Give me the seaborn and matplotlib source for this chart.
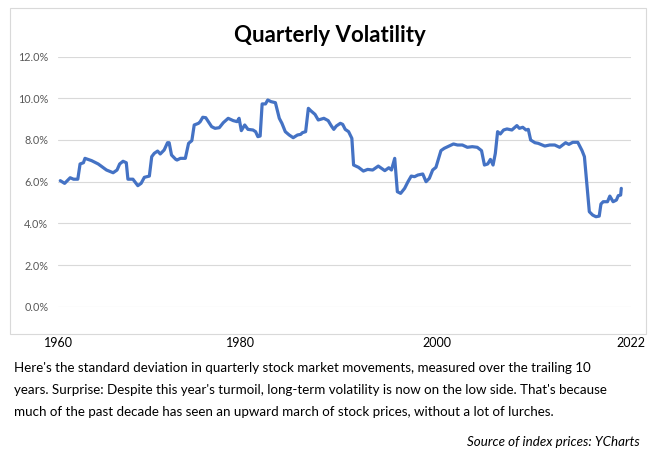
import matplotlib
matplotlib.use("Agg")
import matplotlib.pyplot as plt
import matplotlib.ticker as mticker
from matplotlib.patches import Rectangle
import numpy as np
import pandas as pd
import seaborn as sns

# ---- data ----
years = [1960.25, 1960.73, 1961.34, 1961.71, 1962.18, 1962.43, 1962.80, 1962.97, 1963.70, 1964.43,
         1965.34, 1966.07, 1966.50, 1966.79, 1967.16, 1967.52, 1967.70, 1968.25, 1968.79, 1969.15,
         1969.51, 1970.06, 1970.32, 1970.60, 1970.97, 1971.26, 1971.69, 1972.06, 1972.24, 1972.50,
         1972.97, 1973.11, 1973.48, 1974.02, 1974.38, 1974.74, 1975.00, 1975.47, 1975.66, 1975.94,
         1976.27, 1976.56, 1976.92, 1977.29, 1977.76, 1978.20, 1978.74, 1979.29, 1979.72, 1979.94,
         1980.19, 1980.56, 1980.92, 1981.47, 1981.76, 1982.01, 1982.26, 1982.48, 1982.85, 1983.10,
         1983.46, 1983.94, 1984.37, 1984.66, 1985.03, 1985.46, 1985.90, 1986.37, 1986.73, 1986.91,
         1987.27, 1987.57, 1987.82, 1988.30, 1988.66, 1989.28, 1989.75, 1990.11, 1990.37, 1990.65,
         1991.09, 1991.35, 1991.63, 1992.00, 1992.36, 1992.55, 1993.09, 1993.63, 1994.10, 1994.65,
         1995.27, 1995.63, 1995.99, 1996.43, 1996.72, 1997.08, 1997.37, 1997.73, 1998.17, 1998.54,
         1998.90, 1999.26, 1999.63, 2000.17, 2000.53, 2000.89, 2001.26, 2001.62, 2002.17, 2002.53,
         2003.07, 2003.55, 2003.99, 2004.53, 2005.08, 2005.62, 2006.17, 2006.64, 2006.96, 2007.32,
         2007.62, 2007.91, 2008.16, 2008.41, 2008.71, 2009.07, 2009.44, 2009.98, 2010.53, 2010.81,
         2011.18, 2011.54, 2011.79, 2012.05, 2012.52, 2012.88, 2013.61, 2014.15, 2014.70, 2015.24,
         2015.90, 2016.26, 2016.69, 2017.24, 2017.49, 2017.71, 2017.97, 2018.33, 2018.51, 2018.88,
         2019.24, 2019.60, 2019.79, 2020.04, 2020.51, 2020.77, 2021.13, 2021.49, 2021.70, 2021.96,
         2022.03]
volatility = [6.05, 5.92, 6.19, 6.12, 6.12, 6.85, 6.91, 7.12, 7.01, 6.85,
              6.56, 6.43, 6.56, 6.85, 6.98, 6.91, 6.12, 6.12, 5.81, 5.92,
              6.21, 6.27, 7.20, 7.36, 7.47, 7.33, 7.52, 7.87, 7.87, 7.28,
              7.07, 7.04, 7.12, 7.12, 7.84, 7.97, 8.72, 8.80, 8.88, 9.09,
              9.07, 8.88, 8.64, 8.56, 8.59, 8.83, 9.04, 8.93, 8.88, 9.04,
              8.45, 8.72, 8.51, 8.48, 8.40, 8.16, 8.19, 9.73, 9.73, 9.92,
              9.84, 9.79, 9.04, 8.80, 8.40, 8.24, 8.11, 8.24, 8.27, 8.35,
              8.40, 9.52, 9.41, 9.23, 8.96, 9.04, 8.93, 8.67, 8.51, 8.67,
              8.80, 8.75, 8.51, 8.40, 8.08, 6.80, 6.69, 6.51, 6.59, 6.56,
              6.75, 6.64, 6.53, 6.67, 6.56, 7.12, 5.52, 5.44, 5.68, 6.00,
              6.27, 6.24, 6.32, 6.37, 6.00, 6.16, 6.56, 6.69, 7.49, 7.60,
              7.71, 7.81, 7.76, 7.76, 7.65, 7.68, 7.65, 7.49, 6.80, 6.85,
              7.07, 6.80, 7.36, 8.40, 8.29, 8.48, 8.53, 8.48, 8.69, 8.56,
              8.61, 8.48, 8.51, 8.00, 7.87, 7.84, 7.71, 7.76, 7.76, 7.65,
              7.87, 7.79, 7.89, 7.89, 7.68, 7.49, 7.20, 5.44, 4.56, 4.40,
              4.32, 4.35, 4.93, 5.04, 5.04, 5.31, 5.04, 5.12, 5.33, 5.36,
              5.68]
year_labels = ["1960", "1980", "2000", "2022"]
y_ticks = [0, 2, 4, 6, 8, 10, 12]

title = "Quarterly Volatility"
caption = ["Here's the standard deviation in quarterly stock market movements, measured over the trailing 10",
           "years. Surprise: Despite this year's turmoil, long-term volatility is now on the low side. That's because",
           "much of the past decade has seen an upward march of stock prices, without a lot of lurches."]
source = "Source of index prices: YCharts"

df = pd.DataFrame({"year": years, "vol": volatility})

sns.set_theme(style="white")
plt.rcParams["font.family"] = ["Lato", "DejaVu Sans"]

W, H = 661, 459
fig = plt.figure(figsize=(W / 100, H / 100), dpi=100)
fig.patch.set_facecolor("white")

# chart frame
fig.patches.append(Rectangle((10 / W, 1 - 334 / H), 636 / W, 326 / H, transform=fig.transFigure,
                             facecolor="none", edgecolor="#d9d9d9", linewidth=0.8))

ax_left, ax_right, ax_top, ax_bot = 58, 631, 56.6, 306.8
ax = fig.add_axes([ax_left / W, 1 - ax_bot / H, (ax_right - ax_left) / W, (ax_bot - ax_top) / H])
ax.set_facecolor("none")

sns.lineplot(data=df, x="year", y="vol", ax=ax, color="#4472C4", linewidth=2.3)

ax.set_xlim(1960, 2022.45)
ax.set_ylim(0, 12)
ax.set_yticks(y_ticks)
ax.yaxis.set_major_formatter(mticker.FuncFormatter(lambda v, p: f"{v:.1f}%"))
ax.tick_params(axis="y", length=0, pad=7, labelsize=7.8, labelcolor="#595959")
ax.grid(axis="y", color="#d9d9d9", linewidth=0.8)
ax.set_axisbelow(True)
for s in ax.spines.values():
    s.set_visible(False)

ax.set_xticks([1960, 1980.05, 2001.7, 2023.1])
ax.set_xticklabels(year_labels)
ax.tick_params(axis="x", length=0, pad=22, labelsize=9, labelcolor="#000000")
ax.set_xlabel("")
ax.set_ylabel("")

fig.text(330 / W, 1 - 35 / H, title, ha="center", va="center", fontsize=16, fontweight="bold", color="black")

for i, line in enumerate(caption):
    fig.text(14 / W, 1 - (368 + 22 * i) / H, line, ha="left", va="center", fontsize=9.6, color="black")
fig.text(640 / W, 1 - 442 / H, source, ha="right", va="center", fontsize=9.6, style="italic", color="black")

fig.savefig("out.png", dpi=100, facecolor="white")
